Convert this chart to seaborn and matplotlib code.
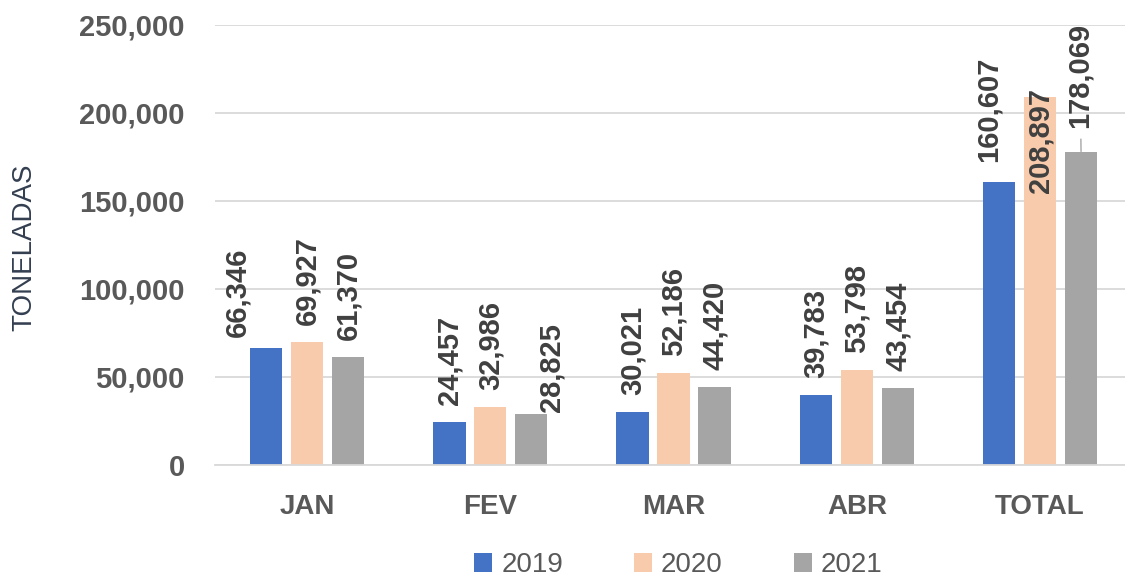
import pandas as pd
import matplotlib
matplotlib.use("Agg")
import matplotlib.pyplot as plt
import seaborn as sns

sns.set_style("white")
plt.rcParams['font.family'] = ['Liberation Sans', 'DejaVu Sans']

meses = ["JAN", "FEV", "MAR", "ABR", "TOTAL"]
anos = ["2019", "2020", "2021"]
valores_2019 = [66346, 24457, 30021, 39783, 160607]
valores_2020 = [69927, 32986, 52186, 53798, 208897]
valores_2021 = [61370, 28825, 44420, 43454, 178069]
cores = ["#4472C4", "#F8CBAD", "#A5A5A5"]

# ajustes manuais dos rotulos (dx em px, distancia em px acima da barra)
ajustes = {
    ("2019", "JAN"): (-29, 11),
    ("2021", "FEV"): (20, 2),
    ("2019", "TOTAL"): (-11, 20),
}

df = pd.DataFrame({
    "mes": meses * 3,
    "ano": [a for a in anos for _ in meses],
    "valor": valores_2019 + valores_2020 + valores_2021,
})

fig = plt.figure(figsize=(11.25, 5.79), dpi=100)
ax = fig.add_axes([0.1915, 0.197, 0.8145, 0.760])

sns.barplot(data=df, x="mes", y="valor", hue="ano", palette=cores,
            saturation=1, width=0.67, gap=0.21, linewidth=0, ax=ax)

ax.set_ylim(0, 250000)
ax.set_xlim(-0.5, 4.5)
ax.set_yticks(range(0, 250001, 50000))
ax.set_yticklabels([f"{v:,}" for v in range(0, 250001, 50000)])
ax.yaxis.grid(True, color="#d9d9d9", lw=1.3)
ax.set_axisbelow(True)
for s in ["top", "left", "right"]:
    ax.spines[s].set_visible(False)
ax.spines["bottom"].set_color("#d9d9d9")
ax.spines["bottom"].set_linewidth(1.3)
ax.tick_params(axis="both", length=0)
ax.tick_params(axis="y", pad=22, labelsize=21, labelcolor="#595959")
ax.tick_params(axis="x", pad=21, labelsize=20, labelcolor="#595959")
for t in ax.get_xticklabels() + ax.get_yticklabels():
    t.set_fontweight("bold")
ax.set_xlabel("")
ax.set_ylabel("")

rot = dict(rotation=90, fontsize=21, fontweight="bold", color="#404040",
           ha="center", textcoords="offset pixels", annotation_clip=False)
for ano, cont in zip(anos, ax.containers):
    for mes, p in zip(meses, cont.patches):
        xc = p.get_x() + p.get_width() / 2
        h = p.get_height()
        txt = f"{h:,.0f}"
        if ano == "2020" and mes == "TOTAL":
            ax.annotate(txt, (xc, h), xytext=(0, 9), va="top", **rot)
        elif ano == "2021" and mes == "TOTAL":
            ax.annotate(txt, (xc, h), xytext=(-1, 24), va="bottom",
                        arrowprops=dict(arrowstyle="-", color="#a6a6a6", lw=1,
                                        shrinkA=6, shrinkB=0), **rot)
        else:
            dx, gap = ajustes.get((ano, mes), (0, 17))
            ax.annotate(txt, (xc, h), xytext=(dx, gap), va="bottom", **rot)

handles, labels = ax.get_legend_handles_labels()
ax.get_legend().remove()
fig.legend(handles, labels, loc="center", bbox_to_anchor=(0.603, 0.024),
           ncol=3, frameon=False, fontsize=20, labelcolor="#595959",
           handlelength=0.65, handleheight=0.65, handletextpad=0.32,
           columnspacing=2.55)

fig.text(0.022, 0.573, "TONELADAS", rotation=90, fontsize=20, color="#333F50",
         ha="center", va="center")

fig.savefig("out.png", dpi=100)
